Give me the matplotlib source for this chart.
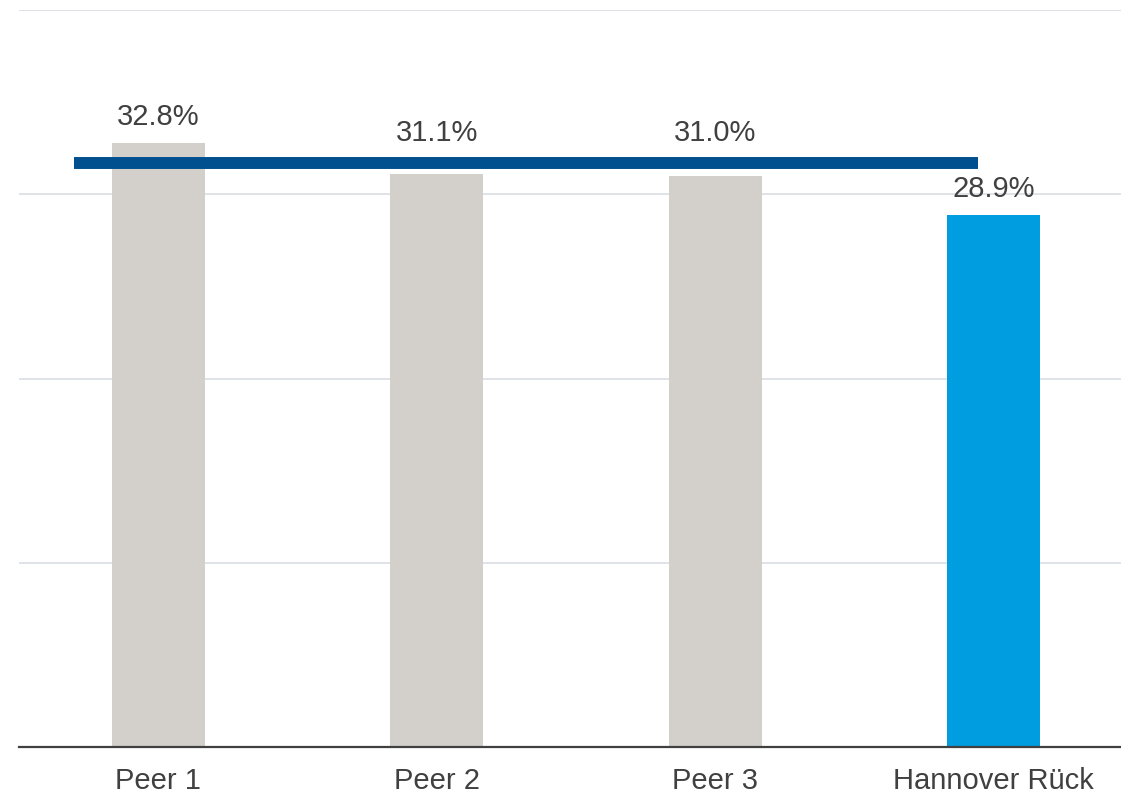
import matplotlib
matplotlib.use("Agg")
import matplotlib.pyplot as plt

categories = ["Peer 1", "Peer 2", "Peer 3", "Hannover Rück"]
values = [32.8, 31.1, 31.0, 28.9]
labels = ["32.8%", "31.1%", "31.0%", "28.9%"]
peer_average = 31.7
bar_colors = ["#d3d0cc", "#d3d0cc", "#d3d0cc", "#009de0"]
line_color = "#00508f"
text_color = "#404040"

plt.rcParams["font.family"] = ["Liberation Sans", "DejaVu Sans"]

fig = plt.figure(figsize=(11.21, 7.95), dpi=100)
ax = fig.add_axes([19 / 1121, 48 / 795, (1121 - 19) / 1121, (747 - 10) / 795])

x = list(range(len(categories)))
line_start, line_end = -0.303, 2.943
ax.bar(x, values, width=0.334, color=bar_colors, zorder=2)
ax.hlines(peer_average, line_start, line_end, color=line_color, linewidth=8.6, zorder=3)

for xi, v, lab in zip(x, values, labels):
    under_line = line_start <= xi <= line_end and v < peer_average
    if under_line:
        # place label above the average line
        ax.annotate(lab, (xi, peer_average), xytext=(0, 16), textcoords="offset points",
                    ha="center", va="baseline", fontsize=21, color=text_color, zorder=4)
    else:
        ax.annotate(lab, (xi, v), xytext=(0, 12.5), textcoords="offset points",
                    ha="center", va="baseline", fontsize=21, color=text_color, zorder=4)

ax.set_xlim(-0.5, -0.5 + (1121 - 19) / 278.5)
ax.set_ylim(0, 40)
ax.set_yticks([10, 20, 30, 40])
ax.yaxis.grid(True, color="#d9dde3", linewidth=1.2, zorder=0)
ax.tick_params(axis="y", length=0, labelleft=False)
ax.set_xticks(x)
ax.set_xticklabels(categories, fontsize=21, color=text_color)
ax.tick_params(axis="x", length=0, pad=14.5)
for s in ["top", "right", "left"]:
    ax.spines[s].set_visible(False)
ax.spines["bottom"].set_color("#404040")
ax.spines["bottom"].set_linewidth(1.6)
ax.spines["bottom"].set_zorder(5)

fig.savefig("out.png", dpi=100)
